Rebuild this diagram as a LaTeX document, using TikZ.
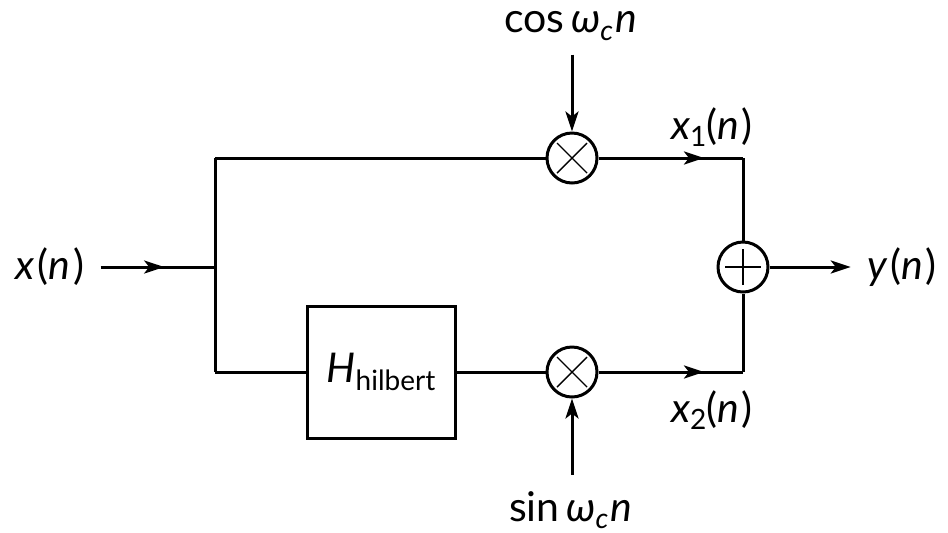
\documentclass[tikz,border=0pt]{standalone}
\usepackage{fontspec}
\setmainfont{Lato}
\usetikzlibrary{arrows.meta,decorations.markings}
\newcommand{\sgvar}[1]{\textit{#1}\kern0.07em}
\newcommand{\sgsub}[1]{\raisebox{-0.35ex}{\fontsize{14pt}{14pt}\selectfont #1}}

\tikzset{
  wire/.style={line width=1.5pt},
  tip/.style={-{Stealth[length=10pt,width=6.5pt,inset=2.5pt]}},
  midarrow/.style={postaction={decorate},decoration={markings,
      mark=at position #1 with {\arrow{Stealth[length=10pt,width=6.5pt,inset=2.5pt]}}}},
  mixer/.style={circle,draw,line width=1.5pt,minimum size=25pt,inner sep=0pt,
      path picture={
        \draw[line width=0.7pt] ([shift={(-7.5pt,-7.5pt)}]path picture bounding box.center)
          -- ([shift={(7.5pt,7.5pt)}]path picture bounding box.center);
        \draw[line width=0.7pt] ([shift={(-7.5pt,7.5pt)}]path picture bounding box.center)
          -- ([shift={(7.5pt,-7.5pt)}]path picture bounding box.center);}},
  adder/.style={circle,draw,line width=1.5pt,minimum size=25pt,inner sep=0pt,
      path picture={
        \draw[line width=0.7pt] ([xshift=-9pt]path picture bounding box.center)
          -- ([xshift=9pt]path picture bounding box.center);
        \draw[line width=0.7pt] ([yshift=-9pt]path picture bounding box.center)
          -- ([yshift=9pt]path picture bounding box.center);}},
  filterbox/.style={draw,line width=1.5pt,minimum width=74pt,minimum height=66pt,inner sep=0pt},
  sig/.style={font=\fontsize{20.5pt}{22pt}\selectfont,inner sep=0pt}
}

\begin{document}
\begin{tikzpicture}[x=0.5pt,y=-0.5pt]
  \useasboundingbox (0,0) rectangle (948,532);
  % blocks
  \node[mixer] (mixc) at (572,158) {};
  \node[mixer] (mixs) at (572,372) {};
  \node[adder] (sum) at (743,267) {};
  \node[filterbox,sig] (hilb) at (381,372) {\textit{H}\sgsub{hilbert}};
  % corners of the two branches
  \coordinate (split) at (215,267);
  \coordinate (splitt) at (215,158);
  \coordinate (splitb) at (215,372);
  \coordinate (joint) at (743,158);
  \coordinate (joinb) at (743,372);
  % signals
  \node[sig] (xin) at (50,267) {\sgvar{x}(\sgvar{n})};
  \node[sig] (yout) at (902,267) {\sgvar{y}(\sgvar{n})};
  \node[sig] (cosc) at (572,26) {cos\,\textit{ω}\sgsub{\textit{c}}\kern0.05em\sgvar{n}};
  \node[sig] (sinc) at (572,510) {sin\,\textit{ω}\sgsub{\textit{c}}\kern0.05em\sgvar{n}};
  \node[sig] (xone) at (712,127) {\textit{x}\sgsub{1}(\sgvar{n})};
  \node[sig] (xtwo) at (712,410) {\textit{x}\sgsub{2}(\sgvar{n})};
  % connectors
  \draw[wire,midarrow=0.61,shorten <=8pt] (xin.east) -- (split);
  \draw[wire] (splitt) -- (splitb);
  \draw[wire] (splitt) -- (mixc);
  \draw[wire] (splitb) -- (hilb);
  \draw[wire] (hilb) -- (mixs);
  \draw[wire,midarrow=0.73] (mixc) -- (joint);
  \draw[wire] (joint) -- (sum);
  \draw[wire,midarrow=0.73] (mixs) -- (joinb);
  \draw[wire] (joinb) -- (sum);
  \draw[wire,tip,shorten <=7pt] (cosc) -- (mixc);
  \draw[wire,tip,shorten <=8pt] (sinc) -- (mixs);
  \draw[wire,tip,shorten >=8pt] (sum) -- (yout.west);
\end{tikzpicture}
\end{document}
